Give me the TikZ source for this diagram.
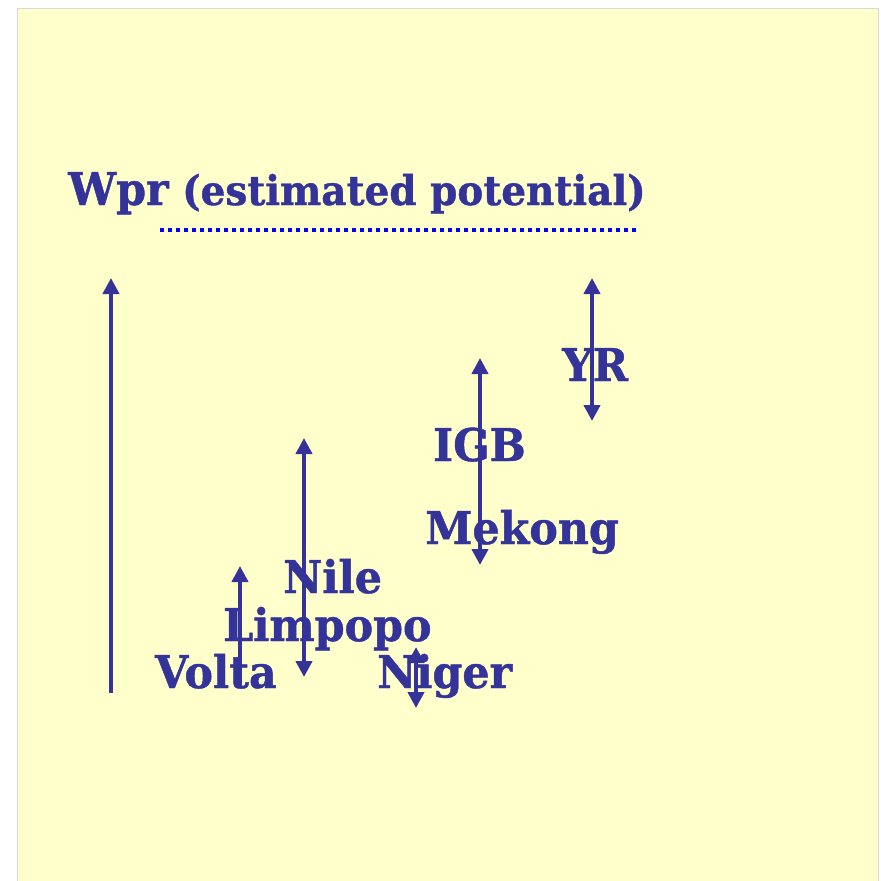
\documentclass[tikz,border=0pt]{standalone}
\usepackage{fontspec}
\usetikzlibrary{arrows.meta}
\newfontfamily\labfont[FakeStretch=0.95,FakeBold=1]{DejaVu Serif}
\definecolor{bgyellow}{HTML}{FFFFCC}
\definecolor{bordergray}{HTML}{D8D8D8}
\definecolor{inkblue}{HTML}{333399}
\definecolor{dotblue}{HTML}{0000FF}
\tikzset{
  lab/.style={anchor=base west, inner sep=0pt, text=inkblue, font=\labfont\bfseries\fontsize{45}{50}\selectfont},
  sublab/.style={anchor=base west, inner sep=0pt, text=inkblue, font=\labfont\bfseries\fontsize{41}{45}\selectfont},
  rng/.style={draw=inkblue, line width=4pt, {Triangle[width=16pt,length=16pt]}-{Triangle[width=16pt,length=16pt]}},
  uprng/.style={draw=inkblue, line width=4pt, -{Triangle[width=16pt,length=16pt]}},
}
\begin{document}
\begin{tikzpicture}[x=1pt,y=-1pt]
\useasboundingbox (0,0) rectangle (881,881);
\fill[bgyellow] (17.5,8) rectangle (878.5,890);
\draw[bordergray, line width=1pt] (17.5,890) -- (17.5,8) -- (878.5,8) -- (878.5,890);
% title
\node[lab] (wpr) at (68,205) {Wpr};
\node[sublab] (est) at (182,205) {(estimated potential)};
\coordinate (dotA) at (160,230);
\coordinate (dotB) at (636,230);
\draw[dotblue, line width=3.5pt, dash pattern=on 4pt off 4pt] (dotA) -- (dotB);
% arrow endpoints
\coordinate (wb) at (111,693); \coordinate (wt) at (111,278);
\coordinate (vb) at (240,685); \coordinate (vt) at (240,566);
\coordinate (nb) at (304,677); \coordinate (nt) at (304,438);
\coordinate (gb) at (416,708); \coordinate (gt) at (416,647);
\coordinate (mb) at (480,565); \coordinate (mt) at (480,358);
\coordinate (yb) at (592,421); \coordinate (yt) at (592,278);
\draw[uprng] (wb) -- (wt);
\draw[uprng] (vb) -- (vt);
\draw[rng] (nb) -- (nt);
\draw[rng] (gb) -- (gt);
\draw[rng] (mb) -- (mt);
\draw[rng] (yb) -- (yt);
% labels
\node[lab] (yr) at (562,381) {YR};
\node[lab] (igb) at (433,461) {IGB};
\node[lab] (mekong) at (425,544) {Mekong};
\node[lab] (nile) at (283,593) {Nile};
\node[lab] (limpopo) at (223,641) {Limpopo};
\node[lab] (volta) at (155,688) {Volta};
\node[lab] (niger) at (377,688) {Niger};
\end{tikzpicture}
\end{document}
